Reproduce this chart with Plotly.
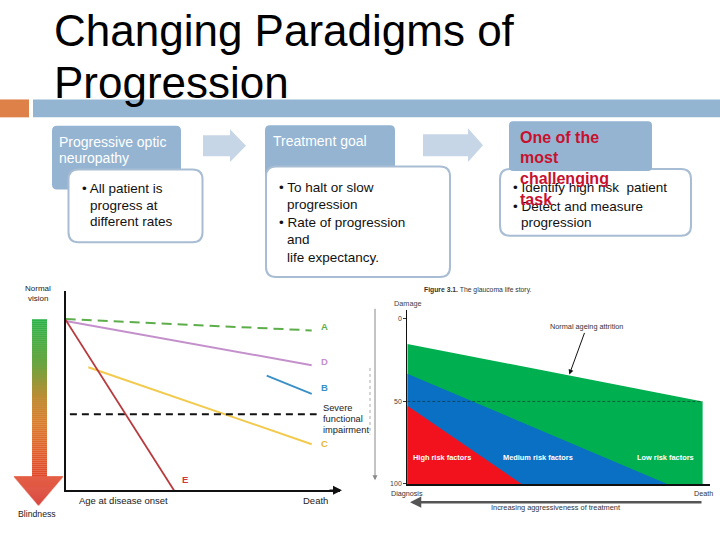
import plotly.graph_objects as go

W, H = 720, 540
FONT = "Liberation Sans"

# ---------------- data ----------------
# Left chart: vision (100 = normal vision, 0 = blindness) against time (0 = onset, 100 = death)
A_x = [0, 100]
A_y = [100, 93.3]
D_x = [0, 100]
D_y = [98.8, 73.0]
E_x = [0, 44.0]
E_y = [99.4, 0]
C_x = [9.2, 100]
C_y = [71.8, 26.9]
B_x = [81.7, 100]
B_y = [66.9, 56.3]
severe_x = [1.7, 102]
severe_y = [44.3, 44.3]

# Right chart: damage (0..100) against time (0 = diagnosis, 100 = death)
low_x = [0, 100, 100, 0]
low_y = [15.2, 50, 100, 100]
med_x = [0, 88, 0]
med_y = [33.2, 100, 100]
high_x = [0, 38.7, 0]
high_y = [52.6, 100, 100]
ref50_x = [0, 100]
ref50_y = [50, 50]
damage_ticks = [0, 50, 100]
damage_ticklabels = ["0", "50", "100"]


def px(x):
    return x / W


def py(y):
    return 1 - y / H


shapes = []
annotations = []


def rrect(x0, y0, x1, y1, r):
    return (f"M {px(x0 + r)},{py(y0)} L {px(x1 - r)},{py(y0)} "
            f"Q {px(x1)},{py(y0)} {px(x1)},{py(y0 + r)} L {px(x1)},{py(y1 - r)} "
            f"Q {px(x1)},{py(y1)} {px(x1 - r)},{py(y1)} L {px(x0 + r)},{py(y1)} "
            f"Q {px(x0)},{py(y1)} {px(x0)},{py(y1 - r)} L {px(x0)},{py(y0 + r)} "
            f"Q {px(x0)},{py(y0)} {px(x0 + r)},{py(y0)} Z")


def box(x0, y0, x1, y1, r, fill, line=None, lw=0):
    shapes.append(dict(type="path", path=rrect(x0, y0, x1, y1, r), xref="paper", yref="paper",
                       fillcolor=fill, line=dict(color=line or fill, width=lw)))


def rect(x0, y0, x1, y1, fill):
    shapes.append(dict(type="rect", x0=px(x0), x1=px(x1), y0=py(y1), y1=py(y0),
                       xref="paper", yref="paper", fillcolor=fill, line=dict(width=0)))


def block_arrow(x0, xh, x1, yb0, yb1, yh0, yh1, fill):
    ym = (yh0 + yh1) / 2
    p = (f"M {px(x0)},{py(yb0)} L {px(xh)},{py(yb0)} L {px(xh)},{py(yh0)} L {px(x1)},{py(ym)} "
         f"L {px(xh)},{py(yh1)} L {px(xh)},{py(yb1)} L {px(x0)},{py(yb1)} Z")
    shapes.append(dict(type="path", path=p, xref="paper", yref="paper", fillcolor=fill,
                       line=dict(width=0)))


def txt(text, x, y, size, color="#000000", xanchor="left", family=FONT):
    annotations.append(dict(text=text, x=px(x), y=py(y), xref="paper", yref="paper",
                            showarrow=False, xanchor=xanchor, yanchor="middle",
                            font=dict(size=size, color=color, family=family)))


# ---------------- slide decoration ----------------
rect(0, 100, 29, 118, "#DE8149")
rect(33, 100, 720, 118, "#94B5D2")

txt("Changing Paradigms of", 52, 30.5, 44)
txt("Progression", 52, 83, 44)

BOX_BLUE = "#94B4D2"
BORDER = "#A8BDD3"
ARROW = "#C7D6E6"

# box 1
box(52, 126.5, 181, 190.5, 5, BOX_BLUE)
box(68.5, 170.5, 202.5, 243.5, 10, "#FFFFFF", BORDER, 2)
# box 2
box(265, 126, 395, 190, 5, BOX_BLUE)
box(266, 167.5, 450, 278.5, 10, "#FFFFFF", BORDER, 2)
# box 3
box(500, 170, 691, 237, 10, "#FFFFFF", BORDER, 2)
box(509, 122, 652, 172, 4, BOX_BLUE)

block_arrow(203, 230, 246, 136, 157, 130, 163, ARROW)
block_arrow(423, 468, 483, 135, 157, 129, 163, ARROW)

txt("Progressive optic", 57, 142.5, 14, "#FFFFFF")
txt("neuropathy", 57, 158.5, 14, "#FFFFFF")
txt("• All patient is", 80, 190, 13.5, "#111111")
txt("progress at", 87.5, 206.5, 13.5, "#111111")
txt("different rates", 87.5, 223, 13.5, "#111111")

txt("Treatment goal", 271, 141.5, 14, "#FFFFFF")
txt("• To halt or slow", 277, 189, 13.5, "#111111")
txt("progression", 285, 205.5, 13.5, "#111111")
txt("• Rate of progression", 277, 224, 13.5, "#111111")
txt("and", 285, 240.5, 13.5, "#111111")
txt("life expectancy.", 285, 258.5, 13.5, "#111111")

txt("• Identify high risk  patient", 511, 189, 13.5, "#111111")
txt("• Detect and measure", 511, 207.5, 13.5, "#111111")
txt("progression", 519, 224, 13.5, "#111111")

RED = "#C8102E"
txt("<b>One of the</b>", 518, 138.5, 16, RED)
txt("<b>most</b>", 518, 158.5, 16, RED)
txt("<b>challenging</b>", 518, 179.5, 16, RED)
txt("<b>task</b>", 518, 200.5, 16, RED)

# ---------------- gradient arrow (vision scale) ----------------
stops = [(321, (45, 179, 74)), (365, (105, 165, 64)), (400, (190, 140, 52)), (425, (218, 128, 48)),
         (455, (225, 95, 44)), (479, (224, 72, 42)), (508, (212, 48, 40))]


def grad(y):
    for (ya, ca), (yb, cb) in zip(stops[:-1], stops[1:]):
        if ya <= y <= yb:
            t = (y - ya) / (yb - ya)
            c = [round(ca[i] + (cb[i] - ca[i]) * t) for i in range(3)]
            return f"rgb({c[0]},{c[1]},{c[2]})"
    c = stops[-1][1] if y > stops[-1][0] else stops[0][1]
    return f"rgb({c[0]},{c[1]},{c[2]})"


y = 321
while y < 479:
    rect(32, y, 47, min(y + 2.2, 479.5), grad(y + 1))
    y += 2
y = 479
while y < 508:
    hw = 24.5 * (508 - y) / 29
    rect(38.5 - hw, y, 38.5 + hw, y + 1.2, grad(y + 0.5))
    y += 1

txt("Normal", 38, 290, 8, "#222222", "center")
txt("vision", 38, 300, 8, "#222222", "center")
txt("Blindness", 37, 517, 8.7, "#222222", "center")

# ---------------- traces ----------------
fig = go.Figure()


def line(x, y, color, width, dash="solid"):
    fig.add_trace(go.Scatter(x=x, y=y, mode="lines", line=dict(color=color, width=width, dash=dash),
                             xaxis="x", yaxis="y", cliponaxis=False, hoverinfo="skip", showlegend=False))


line(A_x, A_y, "#5DAE4B", 2, "10px,6px")
line(D_x, D_y, "#C490CC", 2)
line(C_x, C_y, "#F2CA4E", 2)
line(B_x, B_y, "#3A8FC5", 1.8)
line(severe_x, severe_y, "#111111", 2, "7px,5px")
line(E_x, E_y, "#B83A3E", 1.8)


def area(x, y, color):
    fig.add_trace(go.Scatter(x=x, y=y, mode="lines", fill="toself", fillcolor=color,
                             line=dict(width=0, color=color), xaxis="x2", yaxis="y2",
                             hoverinfo="skip", showlegend=False))


area(low_x, low_y, "#00B050")
area(med_x, med_y, "#0A70C4")
area(high_x, high_y, "#F2121E")
fig.add_trace(go.Scatter(x=ref50_x, y=ref50_y, mode="lines",
                         line=dict(color="rgba(20,40,30,0.7)", width=0.8, dash="3px,2px"),
                         xaxis="x2", yaxis="y2", hoverinfo="skip", showlegend=False))

# labels in data coordinates (left chart)
for lab, xx, yy, col in [("A", 103, 95.5, "#5DAE4B"), ("D", 103, 75, "#C490CC"), ("B", 103, 60, "#3A8FC5"),
                         ("C", 103, 27.5, "#E8B830"), ("E", 46.5, 6.5, "#D0393E")]:
    annotations.append(dict(text=f"<b>{lab}</b>", x=xx, y=yy, xref="x", yref="y", showarrow=False,
                            xanchor="left", yanchor="middle",
                            font=dict(size=9.5, color=col, family=FONT)))

txt("Severe", 320.5, 410, 9.3, "#222222")
txt("functional", 320.5, 421, 9.3, "#222222")
txt("impairment", 320.5, 432, 9.3, "#222222")
txt("Age at disease onset", 123.5, 503.5, 9.5, "#222222", "center")
txt("Death", 315, 503.5, 9.5, "#222222", "center")

# left x-axis arrowhead
annotations.append(dict(x=px(342), y=py(493), ax=-14, ay=0, xref="paper", yref="paper",
                        axref="pixel", ayref="pixel", text="", showarrow=True, arrowhead=2,
                        arrowsize=1.2, arrowwidth=1.5, arrowcolor="#111111"))
# right-side gray arrow and dotted marker
annotations.append(dict(x=px(375), y=py(483), ax=0, ay=-173, xref="paper", yref="paper",
                        axref="pixel", ayref="pixel", text="", showarrow=True, arrowhead=2,
                        arrowsize=1, arrowwidth=1, arrowcolor="#888888"))
shapes.append(dict(type="line", x0=px(370), x1=px(370), y0=py(370), y1=py(437), xref="paper",
                   yref="paper", line=dict(color="#AAAAAA", width=1, dash="dot")))

# right chart text
txt("<b>Figure 3.1.</b> The glaucoma life story.", 422, 292, 6.8, "#333333")
txt("Damage", 392, 305, 7.3, "#444444")
txt("<b>High risk factors</b>", 441.7, 460, 7.4, "#FFFFFF", "center")
txt("<b>Medium risk factors</b>", 538, 460, 7.4, "#FFFFFF", "center")
txt("<b>Low risk factors</b>", 665, 460, 7.4, "#FFFFFF", "center")
txt("Diagnosis", 407, 496, 7.2, "#333333", "center")
txt("Death", 703, 496, 7.2, "#333333", "center")
txt("Increasing aggressiveness of treatment", 555, 510.5, 7.4, "#333333", "center")
annotations.append(dict(x=px(569.3), y=py(376.7), ax=17.4, ay=-47.7, xref="paper", yref="paper",
                        axref="pixel", ayref="pixel", text="Normal ageing attrition", showarrow=True,
                        arrowhead=2, arrowsize=1, arrowwidth=1, arrowcolor="#111111",
                        font=dict(size=7.3, color="#333333", family=FONT)))
annotations.append(dict(x=px(410), y=py(505), ax=293, ay=0, xref="paper", yref="paper",
                        axref="pixel", ayref="pixel", text="", showarrow=True, arrowhead=2,
                        arrowsize=0.9, arrowwidth=2.5, arrowcolor="#555555"))

fig.update_layout(
    width=W, height=H, margin=dict(l=0, r=0, t=0, b=0),
    paper_bgcolor="#FFFFFF", plot_bgcolor="rgba(0,0,0,0)",
    showlegend=False, shapes=shapes, annotations=annotations,
    font=dict(family=FONT),
    xaxis=dict(domain=[px(65.7), px(340)], range=[0, 111.5], showline=True, linecolor="#111111",
               linewidth=1.5, showgrid=False, zeroline=False, showticklabels=False, ticks="",
               anchor="y", fixedrange=True),
    yaxis=dict(domain=[py(493), py(293)], range=[0, 116.1], showline=True, linecolor="#111111",
               linewidth=1.5, showgrid=False, zeroline=False, showticklabels=False, ticks="",
               anchor="x", fixedrange=True),
    xaxis2=dict(domain=[px(407.3), px(710)], range=[0, 102.5], showline=True, linecolor="#111111",
                linewidth=1.5, showgrid=False, zeroline=False, showticklabels=False, ticks="",
                anchor="y2", fixedrange=True),
    yaxis2=dict(domain=[py(486.7), py(311.7)], range=[100, -5.4], showline=True, linecolor="#111111",
                linewidth=1.2, showgrid=False, zeroline=False, tickvals=damage_ticks,
                ticktext=damage_ticklabels, ticks="outside", ticklen=3, tickcolor="#333333",
                tickfont=dict(size=7, color="#444444", family=FONT), anchor="x2", fixedrange=True),
)

fig.write_html("out.html", config={"displayModeBar": False},
               post_script="document.body.style.margin='0';document.body.style.overflow='hidden';")
